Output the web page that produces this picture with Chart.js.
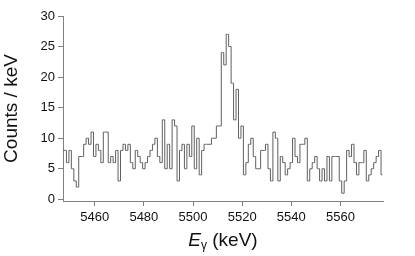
<!DOCTYPE html>
<html>
<head>
<meta charset="utf-8">
<script src="https://cdn.jsdelivr.net/npm/chart.js@4/dist/chart.umd.min.js"></script>
<style>
  body { margin: 0; background: #fff; }
  #wrap { position: relative; width: 415px; height: 256px; }
  #xTitle {
    position: absolute; left: 63px; width: 320px; top: 229px;
    text-align: center; font-family: "Liberation Sans", Arial, sans-serif;
    font-size: 19px; line-height: 22px; color: #111;
  }
  #xTitle sub { font-size: 12px; vertical-align: -3px; }
</style>
</head>
<body>
<div id="wrap">
  <canvas id="chart" width="415" height="256"></canvas>
  <div id="xTitle"><i>E</i><sub>γ</sub> (keV)</div>
</div>
<script>
// ---------- DATA ----------
// bin centres in keV (1 keV bins), first bin 5447
let firstBin = 5447;
let counts = [
  8, 8, 6, 8, 5, 3, 2, 7, 7, 9,        // 5447-5456
  10, 9, 11, 7, 9, 8, 6, 11, 11, 6,    // 5457-5466
  7, 6, 8, 3, 8, 9, 8, 9, 6, 5,        // 5467-5476
  8, 7, 6, 5, 6, 7, 8, 9, 10, 7,       // 5477-5486
  6, 13, 5, 9, 5, 13, 12, 3, 8, 9,     // 5487-5496
  5, 9, 7, 12, 5, 10, 4, 8, 9, 9,      // 5497-5506
  9, 10, 10, 12, 12, 24, 22, 27, 25, 19, // 5507-5516
  13, 18, 10, 12, 4, 6, 9, 10, 7, 5,   // 5517-5526
  5, 8, 8, 9, 5, 3, 11, 10, 3, 7,      // 5527-5536
  6, 4, 5, 6, 10, 7, 6, 9, 9, 10,      // 5537-5546
  3, 5, 6, 7, 5, 3, 5, 3, 7, 3,        // 5547-5556
  7, 7, 7, 3, 1, 3, 8, 7, 9, 6,        // 5557-5566
  4, 6, 6, 8, 3, 4, 5, 6, 7, 8,        // 5567-5576
  4                                    // 5577
];
let xTicks = [5460, 5480, 5500, 5520, 5540, 5560];
let yTicks = [0, 5, 10, 15, 20, 25, 30];

let points = counts.map((c, i) => ({ x: firstBin + i, y: c }));

// ---------- CHART ----------
let axisColor = "#808080";
let tickFont = { family: "Liberation Sans", size: 13 };

let chart = new Chart(document.getElementById("chart"), {
  type: "line",
  data: {
    datasets: [{
      data: points,
      stepped: "middle",
      borderColor: "#606060",
      borderWidth: 1,
      pointRadius: 0,
      fill: false
    }]
  },
  options: {
    responsive: false,
    animation: false,
    devicePixelRatio: 1,
    layout: { padding: { top: 16, right: 32, left: 0, bottom: 0 } },
    plugins: { legend: { display: false }, tooltip: { enabled: false } },
    scales: {
      x: {
        type: "linear",
        min: 5447.1,
        max: 5577.3,
        afterBuildTicks: s => { s.ticks = xTicks.map(v => ({ value: v })); },
        afterFit: s => { s.height = 55; },
        border: { color: axisColor, width: 1 },
        grid: { drawOnChartArea: false, drawTicks: true, tickLength: 5, color: axisColor },
        ticks: { color: "#111", font: tickFont, padding: 4, maxRotation: 0, callback: v => String(v) }
      },
      y: {
        min: -0.28,
        max: 30,
        afterBuildTicks: s => { s.ticks = yTicks.map(v => ({ value: v })); },
        afterFit: s => { s.width = 63; },
        border: { color: axisColor, width: 1 },
        grid: { drawOnChartArea: false, drawTicks: true, tickLength: 5, color: axisColor },
        ticks: { color: "#111", font: tickFont, padding: 3, callback: v => String(v) },
        title: {
          display: true,
          text: "Counts / keV",
          color: "#111",
          font: { family: "Liberation Sans", size: 19 },
          padding: { top: 0, bottom: 0 }
        }
      }
    }
  }
});
</script>
</body>
</html>
